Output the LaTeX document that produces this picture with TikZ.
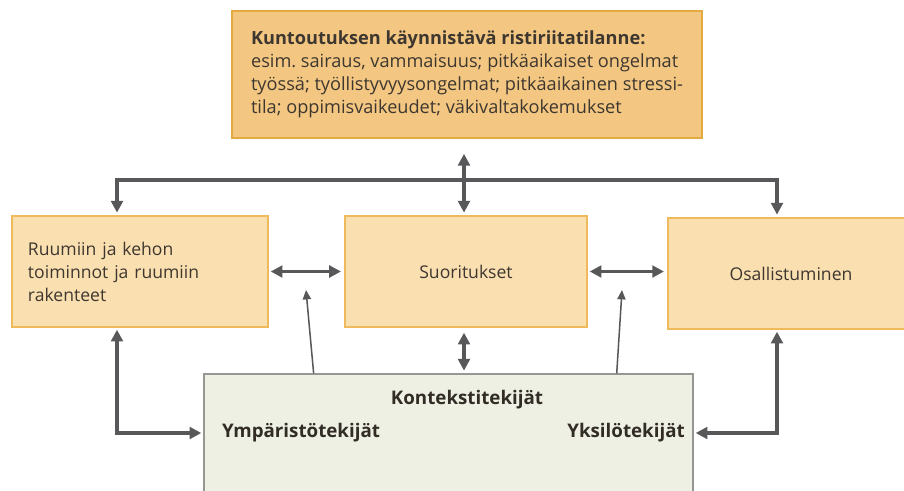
\documentclass[tikz,border=0pt]{standalone}
\usepackage{fontspec}
\setmainfont{Open Sans}
\usetikzlibrary{arrows.meta, positioning, calc}

\definecolor{conflictfill}{RGB}{243,199,130}
\definecolor{conflictline}{RGB}{228,170,66}
\definecolor{partfill}{RGB}{250,223,176}
\definecolor{partline}{RGB}{238,186,92}
\definecolor{ctxfill}{RGB}{238,240,227}
\definecolor{ctxline}{RGB}{150,150,148}
\definecolor{arrowgray}{RGB}{88,88,90}
\definecolor{labeltext}{RGB}{62,55,48}

\tikzset{
  conflictbox/.style={draw=conflictline, fill=conflictfill, line width=1.4pt,
    minimum width=14.1cm, minimum height=3.81cm,
    align=left, text=labeltext,
    font=\fontsize{15.5}{19.6}\selectfont},
  partbox/.style={draw=partline, fill=partfill, line width=1.2pt,
    minimum height=3.33cm, inner xsep=0.48cm, text=labeltext,
    font=\fontsize{15}{19.6}\selectfont},
  ctxbox/.style={draw=ctxline, fill=ctxfill, line width=1.2pt,
    minimum width=14.67cm, minimum height=4.2cm},
  ctxlabel/.style={font=\fontsize{16}{18}\selectfont\bfseries,
    text=labeltext!80!black, inner sep=0pt},
  mainarrow/.style={draw=arrowgray, line width=2.6pt,
    -{Triangle[length=10pt, width=10pt]}},
  dblarrow/.style={mainarrow, {Triangle[length=10pt, width=10pt]}-{Triangle[length=10pt, width=10pt]}},
  thinarrow/.style={draw=arrowgray, line width=1.3pt,
    -{Triangle[length=8pt, width=7pt]}}
}

\begin{document}
\frenchspacing
\begin{tikzpicture}[x=0.03cm, y=-0.03cm]
    \useasboundingbox (0,0) rectangle (904,490);
    %
    \node[conflictbox] (conflict) at (467,74.5)
        {\textbf{Kuntoutuksen käynnistävä ristiriitatilanne:}\\
         esim. sairaus, vammaisuus; pitkäaikaiset ongelmat\\
         työssä; työllistyvyysongelmat; pitkäaikainen stressi-\\
         tila; oppimisvaikeudet; väkivaltakokemukset};
    %
    \node[partbox, minimum width=7.68cm, text width=6.72cm, align=left] (body) at (140,271.5)
        {Ruumiin ja kehon\\ toiminnot ja ruumiin\\ rakenteet};
    \node[partbox, minimum width=7.26cm] (activity) at (466,271.5) {Suoritukset};
    \node[partbox, minimum width=7.38cm] (participation) at (791,273.5) {Osallistuminen};
    %
    \node[ctxbox] (context) at (448.5,444) {};
    \node[ctxlabel] (ctxtitle) at (467,400) {Kontekstitekijät};
    \node[ctxlabel, anchor=west] (environment) at (222,433) {Ympäristötekijät};
    \node[ctxlabel, anchor=east] (personal) at (685,433) {Yksilötekijät};
    %
    \coordinate (hub) at (464,180);
    \coordinate (leftcol) at (117,180);
    \coordinate (rightcol) at (777,180);
    \coordinate (tipA) at (306,290);
    \coordinate (tipB) at (622,290);
    %
    \draw[dblarrow, shorten <=0.45cm, shorten >=0.08cm] (conflict.south -| hub) -- (activity.north -| hub);
    \draw[dblarrow, shorten <=0.08cm, shorten >=0.08cm] (leftcol |- body.north) -- (leftcol) -- (rightcol) -- (rightcol |- participation.north);
    %
    \draw[dblarrow, shorten <=0.06cm, shorten >=0.1cm] (body.east) -- (activity.west);
    \draw[dblarrow, shorten <=0.06cm, shorten >=0.1cm] (activity.east) -- (activity.east -| participation.west);
    \draw[dblarrow, shorten <=0.15cm, shorten >=0.08cm] (activity.south -| hub) -- (context.north -| hub);
    %
    \draw[dblarrow, line width=3pt, shorten <=0.06cm, shorten >=0.06cm] (leftcol |- body.south) |- (context.west |- environment.west);
    \draw[dblarrow, line width=3pt, shorten <=0.06cm, shorten >=0.06cm] (context.east |- personal.east) -| (rightcol |- participation.south);
    %
    \draw[thinarrow] ($(context.north west)!0.225!(context.north east)$) -- (tipA);
    \draw[thinarrow] ($(context.north west)!0.843!(context.north east)$) -- (tipB);
\end{tikzpicture}
\end{document}
